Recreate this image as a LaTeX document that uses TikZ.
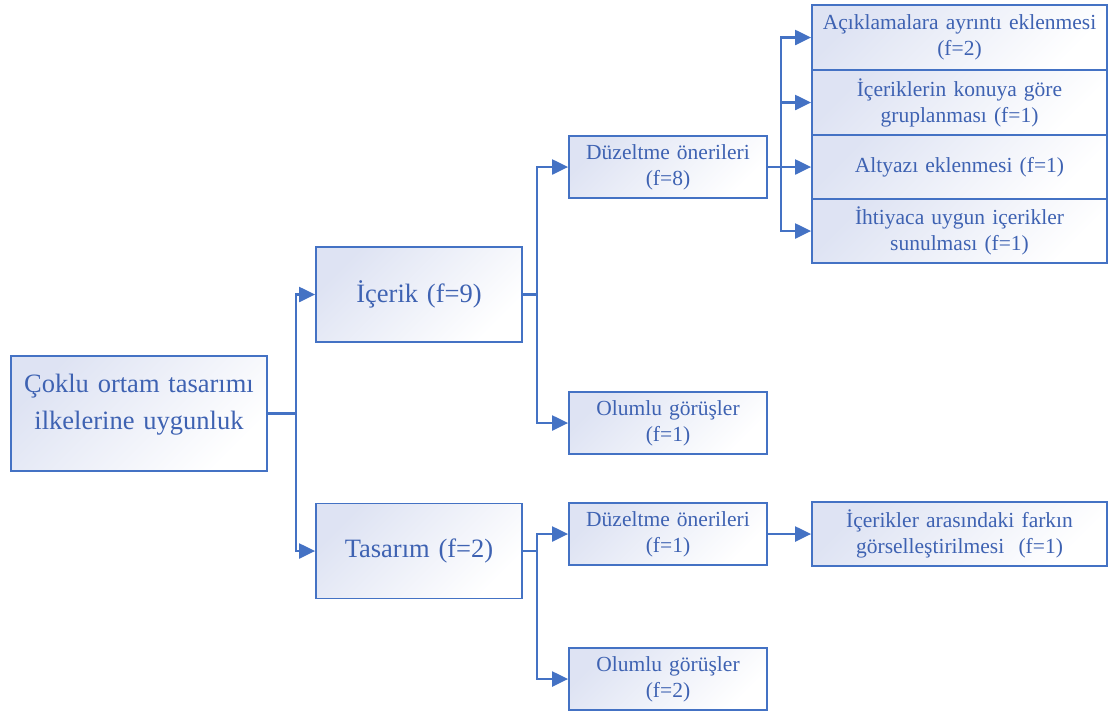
\documentclass[tikz,border=0pt]{standalone}
\usepackage{fontspec}
\setmainfont{Liberation Serif}
\usetikzlibrary{arrows.meta}
\definecolor{lineblue}{RGB}{68,114,196}
\definecolor{txtblue}{RGB}{62,98,178}
\definecolor{shadeA}{RGB}{222,227,243}
\tikzset{
  box/.style={draw=lineblue, line width=1.8pt, top color=shadeA, bottom color=white, shading angle=45,
    text=txtblue, align=center, inner sep=2pt},
  bigbox/.style={box, minimum width=256pt, minimum height=115pt, text width=250pt, font=\fontsize{26.5}{37}\selectfont},
  midbox/.style={box, minimum width=206pt, minimum height=95pt, text width=200pt, font=\fontsize{26.5}{32}\selectfont},
  smallbox/.style={box, minimum width=198pt, minimum height=62pt, text width=194pt, font=\fontsize{21.5}{26}\selectfont},
  rightbox/.style={box, minimum width=295pt, minimum height=64pt, text width=291pt, font=\fontsize{21.5}{26}\selectfont},
  conn/.style={draw=lineblue, line width=2.2pt},
  arr/.style={conn, -{Triangle[length=16pt,width=15pt]}}
}
\begin{document}
\begin{tikzpicture}[x=1pt,y=-1pt]
\useasboundingbox (0,0) rectangle (1110,716);
\node[bigbox] (root) at (139,413.5) {Çoklu ortam tasarımı\\ilkelerine uygunluk\\[-14pt]\mbox{}};
\node[midbox] (icerik) at (419,294.5) {İçerik (f=9)};
\node[midbox] (tasarim) at (419,551) {Tasarım (f=2)};
\node[smallbox] (d8) at (668,167) {Düzeltme önerileri\\(f=8)};
\node[smallbox] (o1) at (668,423) {Olumlu görüşler\\(f=1)};
\node[smallbox] (d1) at (668,534) {Düzeltme önerileri\\(f=1)};
\node[smallbox] (o2) at (668,679) {Olumlu görüşler\\(f=2)};
\node[rightbox, minimum height=65pt] (s1) at (959.5,37.5) {Açıklamalara ayrıntı eklenmesi\\(f=2)};
\node[rightbox, minimum height=65pt] (s2) at (959.5,102.5) {İçeriklerin konuya göre\\gruplanması (f=1)};
\node[rightbox] (s3) at (959.5,167) {Altyazı eklenmesi (f=1)};
\node[rightbox] (s4) at (959.5,231) {İhtiyaca uygun içerikler\\sunulması (f=1)};
\node[rightbox] (f) at (959.5,534) {İçerikler arasındaki farkın\\görselleştirilmesi~~(f=1)};
% connectors
\coordinate (j1) at (296,413.5);
\coordinate (j2) at (537,294.5);
\coordinate (j3) at (537,551);
\coordinate (j4) at (781,167);
\draw[conn] (root.east) -- (j1);
\draw[arr] (j1) |- (icerik.west);
\draw[arr] (j1) |- (tasarim.west);
\draw[conn] (icerik.east) -- (j2);
\draw[arr] (j2) |- (d8.west);
\draw[arr] (j2) |- (o1.west);
\draw[conn] (tasarim.east) -- (j3);
\draw[arr] (j3) |- (d1.west);
\draw[arr] (j3) |- (o2.west);
\draw[conn] (d8.east) -- (j4);
\draw[arr] (j4) |- (s1.west);
\draw[arr] (j4) |- (s2.west);
\draw[arr] (j4) -- (s3.west);
\draw[arr] (j4) |- (s4.west);
\draw[arr] (d1.east) -- (f.west);
\end{tikzpicture}
\end{document}
